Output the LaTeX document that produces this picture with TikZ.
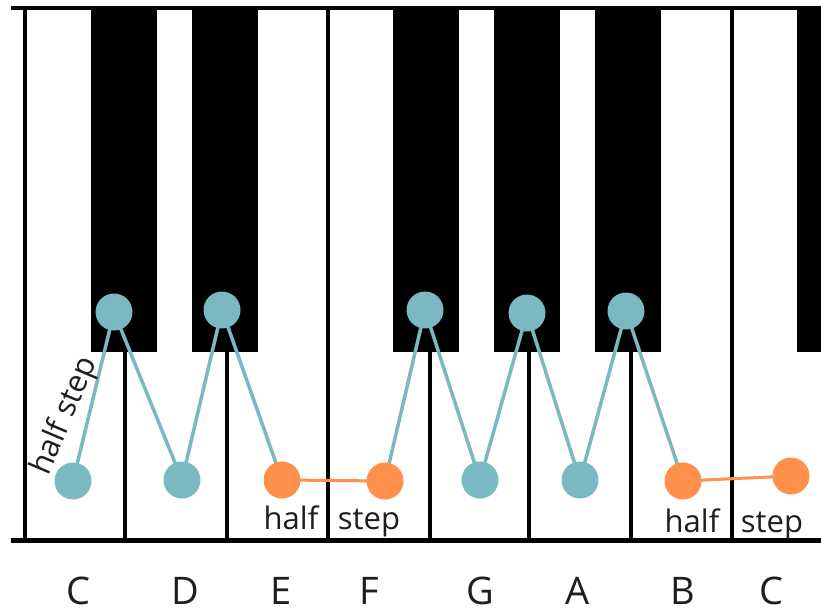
\documentclass[tikz,border=0pt]{standalone}
\usepackage{fontspec}
\setmainfont{Open Sans}
\definecolor{tealdot}{HTML}{7AB8C2}
\definecolor{orangedot}{HTML}{FF914D}
\definecolor{inktext}{HTML}{1E1E1E}
\pgfdeclarelayer{keys}
\pgfdeclarelayer{links}
\pgfsetlayers{keys,links,main}
\begin{document}
\begin{tikzpicture}[x=1pt,y=-1pt,
  dot/.style={circle,inner sep=0pt,minimum size=37pt},
  tdot/.style={dot,fill=tealdot},
  odot/.style={dot,fill=orangedot},
  tline/.style={tealdot,line width=3.5pt},
  oline/.style={orangedot,line width=3pt},
  steptext/.style={font=\fontsize{31}{36}\selectfont,text=inktext,inner sep=0pt,anchor=base},
  keyname/.style={font=\fontsize{38}{44}\selectfont,text=inktext,inner sep=0pt,anchor=base}]
\useasboundingbox (0,0) rectangle (821,610);
\begin{pgfonlayer}{keys}
\fill[white] (0,0) rectangle (821,610);
% white key separators
\foreach \x in {25,125,227,328,430,529,631,732}
  \draw[line width=4pt] (\x,8) -- (\x,540);
% black keys
\foreach \a/\b in {91/157,192/258,393/459,494/560,595/661,797/821}
  \fill[black] (\a,8) rectangle (\b,352);
\draw[line width=4pt] (11,8) -- (821,8);
\draw[line width=4.5pt] (11,540.5) -- (821,540.5);
\end{pgfonlayer}
% dots
\node[tdot] (nC) at (73,481) {};
\node[tdot] (nCs) at (114,312) {};
\node[tdot] (nD) at (182,480) {};
\node[tdot] (nDs) at (222,310) {};
\node[odot] (nE) at (282,480) {};
\node[odot] (nF) at (385,481) {};
\node[tdot] (nFs) at (425,310) {};
\node[tdot] (nG) at (480,480) {};
\node[tdot] (nGs) at (527,313) {};
\node[tdot] (nA) at (580,480) {};
\node[tdot] (nAs) at (626,311) {};
\node[odot] (nB) at (683,481) {};
\node[odot] (nCC) at (791,476) {};
% connectors
\begin{pgfonlayer}{links}
\draw[tline] (nC.center) -- (nCs.center) -- (nD.center) -- (nDs.center) -- (nE.center);
\draw[tline] (nF.center) -- (nFs.center) -- (nG.center) -- (nGs.center) -- (nA.center) -- (nAs.center) -- (nB.center);
\draw[oline] (nE.center) -- (nF.center);
\draw[oline] (nB.center) -- (nCC.center);
\end{pgfonlayer}
% step labels
\node[steptext] (h1) at (291,529) {half};
\node[steptext] (s1) at (369,529) {step};
\node[steptext] (h2) at (692,532) {half};
\node[steptext] (s2) at (772,532) {step};
\node[steptext,anchor=center,rotate=67] (hs) at (65,416) {half step};
% key names
\node[keyname] (kC) at (78,604) {C};
\node[keyname] (kD) at (185,604) {D};
\node[keyname] (kE) at (281,604) {E};
\node[keyname] (kF) at (369,604) {F};
\node[keyname] (kG) at (480,604) {G};
\node[keyname] (kA) at (578,604) {A};
\node[keyname] (kB) at (683,604) {B};
\node[keyname] (kC2) at (771,604) {C};
\end{tikzpicture}
\end{document}
